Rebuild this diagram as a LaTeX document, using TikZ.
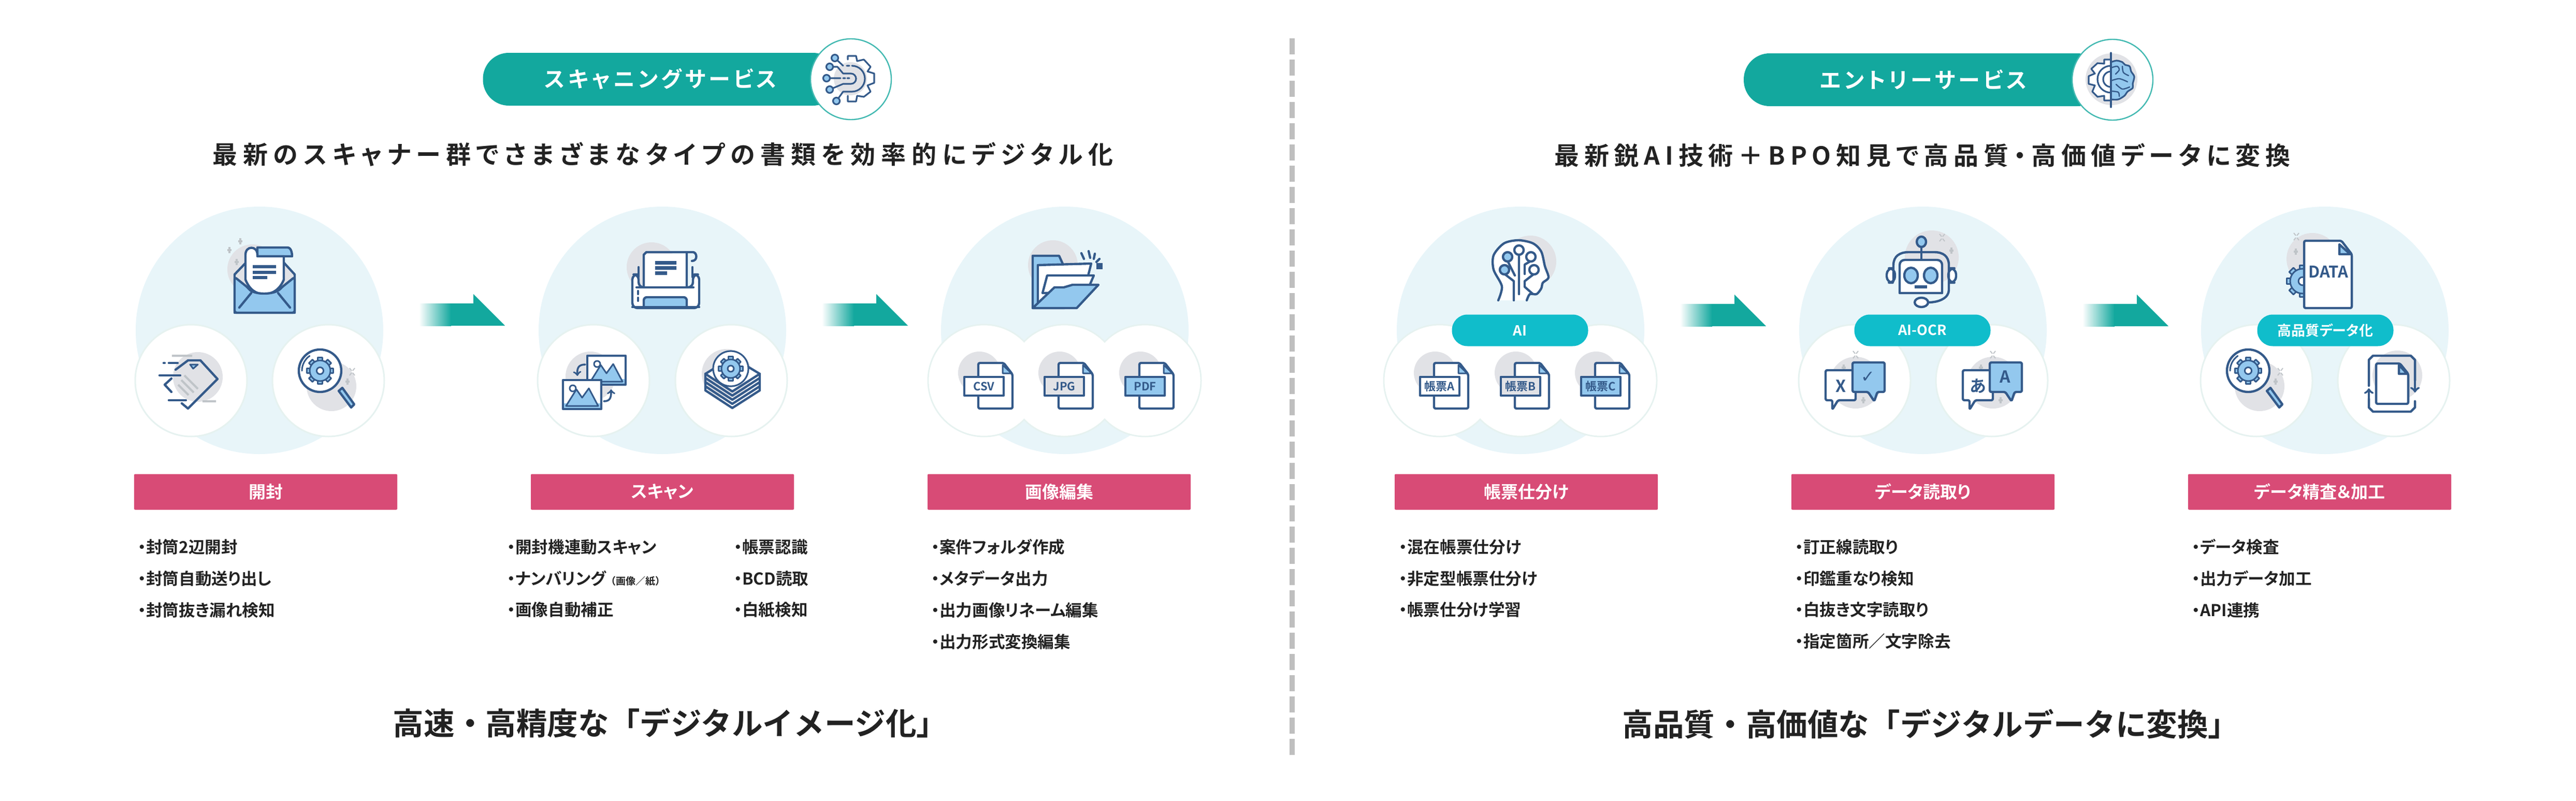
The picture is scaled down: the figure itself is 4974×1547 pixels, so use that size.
\documentclass[tikz,border=0pt]{standalone}
\usepackage{fontspec}
\usetikzlibrary{positioning}
\setmainfont[RawFeature=+palt]{Noto Sans CJK JP Bold}
\newfontfamily\plainfont{Noto Sans CJK JP Bold}
\newfontfamily\headfont[RawFeature=+palt,LetterSpace=22.5]{Noto Sans CJK JP Bold}
\newfontfamily\wideheadfont[RawFeature=+palt,LetterSpace=20.5]{Noto Sans CJK JP Bold}
\newfontfamily\pillfont[RawFeature=+palt,LetterSpace=15]{Noto Sans CJK JP Bold}
\newfontfamily\symfont{DejaVu Sans}

\definecolor{tealpill}{HTML}{13A89E}
\definecolor{cyanpill}{HTML}{10BDCB}
\definecolor{pinkbar}{HTML}{D84B76}
\definecolor{paledisc}{HTML}{E8F5F9}
\definecolor{discedge}{HTML}{E6F2F0}
\definecolor{iconline}{HTML}{345A8A}
\definecolor{iconblue}{HTML}{93C8EE}
\definecolor{iconblob}{HTML}{E1E2E6}
\definecolor{sparkgrey}{HTML}{BFC4C8}
\definecolor{inktext}{HTML}{222222}

\tikzset{
    iconstroke/.style={draw=iconline, line width=2.2pt, line join=round, line cap=round},
    thinstroke/.style={draw=iconline, line width=1.5pt, line join=round, line cap=round},
    bigdisc/.style={circle, fill=paledisc, inner sep=0pt, minimum size=239pt},
    smalldisc/.style={circle, fill=white, draw=discedge, line width=1.5pt, inner sep=0pt, minimum size=108pt},
    mergedisc/.style={circle, fill=white, inner sep=0pt, minimum size=106.5pt},
    servicepill/.style={fill=tealpill, rounded corners=25pt, minimum height=51pt, inner sep=0pt,
        text=white, font=\pillfont\fontsize{21}{21}\selectfont},
    servicering/.style={circle, fill=white, draw=tealpill!80, line width=1.2pt, inner sep=0pt, minimum size=78pt},
    stepbar/.style={fill=pinkbar, rounded corners=1pt, minimum width=254pt, minimum height=34.5pt, inner sep=0pt,
        text=white, font=\fontsize{16.5}{16.5}\selectfont},
    techpill/.style={fill=cyanpill, rounded corners=15pt, minimum width=131.5pt, minimum height=30.5pt, inner sep=0pt,
        text=white, font=\fontsize{13.5}{13.5}\selectfont},
    headline/.style={text=inktext, inner sep=0pt, font=\headfont\fontsize{24}{24}\selectfont},
    closing/.style={text=inktext, inner sep=0pt, font=\plainfont\fontsize{29.8}{29.8}\selectfont},
    listtext/.style={text=inktext, anchor=north west, inner sep=0pt, align=left, font=\fontsize{15.8}{30.4}\selectfont},
    pics/plusmark/.style={code={
        \draw[sparkgrey, line width=1.8pt] (-4,0) -- (4,0) (0,-6) -- (0,6);
    }},
    pics/crossmark/.style={code={
        \draw[sparkgrey, line width=1pt] (-5,-7) -- (-1,-2) (5,-7) -- (1,-2) (-5,7) -- (-1,2) (5,7) -- (1,2);
    }},
    pics/flowarrow/.style={code={
        \shade[left color=white, right color=tealpill] (0,18) rectangle (62,61);
        \fill[tealpill] (61,18) -- (105,18) -- (105,0) -- (166,61) -- (61,61) -- cycle;
    }},
    pics/gearicon/.style={code={
        \foreach \a in {0,45,...,315} {
            \draw[thinstroke, fill=iconblue, rotate=\a] (-0.24*#1,-1.28*#1) rectangle (0.24*#1,-0.8*#1);
        }
        \draw[thinstroke, fill=iconblue] (0,0) circle (#1);
        \draw[thinstroke, fill=white] (0,0) circle (0.33*#1);
    }},
    pics/lensicon/.style={code={
        \fill[iconblob] (6,11) circle (48);
        \draw[iconstroke, fill=iconblue] (20,20) -- (27,14) -- (50,46) -- (44,52) -- cycle;
        \draw[iconstroke, fill=white] (-16,-19) circle (41);
        \pic at (-16,-19) {gearicon=20};
        \draw[thinstroke] (-51,-19) arc[start angle=180, end angle=235, radius=35];
        \pic at (46,-17) {crossmark};
        \pic at (37,2) {plusmark};
    }},
    pics/docicon/.style 2 args={code={
        \fill[iconblob] (-9,-15) circle (41);
        \draw[iconstroke, fill=white, rounded corners=1.5pt] (-11,-34) -- (38,-34) -- (55,-12) -- (55,54) -- (-11,54) -- cycle;
        \draw[thinstroke, fill=iconblue] (36,-30) -- (36,-14) -- (53,-14) -- cycle;
        \draw[iconstroke, fill=#2] (-38,-7) rectangle (38,29);
        \node[text=iconline, inner sep=0pt, font=\fontsize{11}{11}\selectfont] (-tag) at (0,11) {#1};
    }},
    pics/speechicon/.style 2 args={code={
        \fill[iconblob] (2,4) circle (50);
        \pic at (2,-50) {crossmark};
        \pic at (-21,-25) {plusmark};
        \pic at (17,38) {plusmark};
        \draw[iconstroke, fill=white, rounded corners=1.5pt] (-56,-20) -- (2,-20) -- (2,38) -- (-32,38) -- (-43,56) -- (-43,38) -- (-56,38) -- cycle;
        \draw[iconstroke, fill=iconblue, rounded corners=1.5pt] (-4,-35) -- (58,-35) -- (58,22) -- (44,22) -- (38,40) -- (26,22) -- (-4,22) -- cycle;
        \node[text=iconline, inner sep=0pt, font=\fontsize{16}{16}\selectfont] (-left) at (-27,11) {#1};
        \node[text=iconline, inner sep=0pt, font=\fontsize{16}{16}\selectfont] (-right) at (26,-7) {#2};
    }},
    pics/photoicon/.style={code={
        \draw[iconstroke, fill=white] (0,0) rectangle (74,56);
        \fill[iconblue] (2,45) rectangle (72,54);
        \draw[thinstroke, fill=iconblue] (6,50) -- (26,18) -- (37,34) -- (50,16) -- (68,50) -- cycle;
        \draw[thinstroke, fill=white] (19,16) circle (6);
    }}
}

\begin{document}
\begin{tikzpicture}[x=0.5pt, y=-0.5pt]
    \useasboundingbox (0, 0) rectangle (4974, 1547);

    % divider
    \draw[color=black!25, line width=5pt, dash pattern=on 15.5pt off 5pt] (2495, 74) -- (2495, 1464);

    % discs
    \node[bigdisc] (discA) at (501, 638) {};
    \node[bigdisc] (discB) at (1279, 638) {};
    \node[bigdisc] (discC) at (2056, 638) {};
    \node[bigdisc] (discD) at (2936, 638) {};
    \node[bigdisc] (discE) at (3713, 638) {};
    \node[bigdisc] (discF) at (4489, 638) {};

    \node[smalldisc] (subA1) at (369, 735) {};
    \node[smalldisc] (subA2) at (634, 735) {};
    \node[smalldisc] (subB1) at (1146, 735) {};
    \node[smalldisc] (subB2) at (1412, 735) {};
    \node[smalldisc] (subC1) at (1900, 735) {};
    \node[smalldisc] (subC2) at (2055, 735) {};
    \node[smalldisc] (subC3) at (2211, 735) {};
    \node[mergedisc] (mergeC1) at (1900, 735) {};
    \node[mergedisc] (mergeC2) at (2055, 735) {};
    \node[mergedisc] (mergeC3) at (2211, 735) {};
    \node[smalldisc] (subD1) at (2780, 735) {};
    \node[smalldisc] (subD2) at (2936, 735) {};
    \node[smalldisc] (subD3) at (3091, 735) {};
    \node[mergedisc] (mergeD1) at (2780, 735) {};
    \node[mergedisc] (mergeD2) at (2936, 735) {};
    \node[mergedisc] (mergeD3) at (3091, 735) {};
    \node[smalldisc] (subE1) at (3581, 735) {};
    \node[smalldisc] (subE2) at (3846, 735) {};
    \node[smalldisc] (subF1) at (4357, 735) {};
    \node[smalldisc] (subF2) at (4622, 735) {};

    % flow arrows
    \pic at (809, 568) {flowarrow};
    \pic at (1587, 568) {flowarrow};
    \pic at (3244, 569) {flowarrow};
    \pic at (4021, 569) {flowarrow};

    % service headers
    \node[servicepill, minimum width=343.5pt] (pillScan) at (1276, 153) {スキャニングサービス};
    \node[servicering] (ringScan) at (1643, 153) {};
    \node[servicepill, minimum width=347pt] (pillEntry) at (3714, 154) {エントリーサービス};
    \node[servicering] (ringEntry) at (4079, 154) {};

    % header icon, scan
    \fill[iconblob] (1642, 152) circle (32);
    \draw[iconstroke, line width=1.6pt] (1637, 115) -- (1637, 108) -- (1653, 108) -- (1655, 118) -- (1668, 115) -- (1681, 129) -- (1675, 138) -- (1688, 142) -- (1688, 160) -- (1675, 165) -- (1681, 177) -- (1668, 187) -- (1655, 185) -- (1653, 196) -- (1637, 196) -- (1637, 185);
    \draw[iconstroke, line width=1.6pt]
        (1612, 112) -- (1628, 127)
        (1635, 127) -- (1640, 127)
        (1645, 127) arc[start angle=-90, end angle=90, radius=25] -- (1628, 177) -- (1615, 195)
        (1602, 129) -- (1617, 129) -- (1628, 142) -- (1643, 142) arc[start angle=-90, end angle=90, radius=10] -- (1628, 162) -- (1602, 173)
        (1596, 151) -- (1623, 151) (1628, 151) -- (1632, 151) (1636, 151) -- (1640, 151);
    \draw[iconstroke, line width=1.6pt, fill=iconblue] (1612, 112) circle (6.5) (1602, 129) circle (6.5) (1596, 151) circle (6.5) (1602, 173) circle (6.5) (1615, 195) circle (6.5);

    % header icon, entry
    \fill[iconblob] (4077, 153) circle (50);
    \draw[iconstroke, line width=1.6pt, fill=white] (4076, 115) -- (4063, 115) -- (4063, 123) -- (4050, 122) -- (4038, 133) -- (4045, 142) -- (4033, 147) -- (4033, 162) -- (4045, 165) -- (4040, 177) -- (4050, 187) -- (4063, 185) -- (4063, 194) -- (4076, 194);
    \draw[iconstroke, line width=1.6pt] (4076, 127) arc[start angle=-90, end angle=-270, radius=26] (4076, 138) arc[start angle=-90, end angle=-270, radius=15];
    \draw[iconstroke, line width=1.6pt, fill=iconblue] plot[smooth] coordinates {(4076, 120) (4087, 117) (4098, 120) (4103, 125) (4112, 128) (4115, 138) (4121, 148) (4118, 162) (4118, 170) (4108, 177) (4102, 185) (4090, 192) (4076, 192)};
    \draw[iconstroke, line width=1.2pt] plot[smooth] coordinates {(4076, 131) (4088, 128) (4092, 135) (4085, 143)} plot[smooth] coordinates {(4098, 128) (4100, 140) (4110, 146)} plot[smooth] coordinates {(4076, 156) (4092, 152) (4108, 158)} plot[smooth] coordinates {(4086, 163) (4098, 172) (4112, 168)} plot[smooth] coordinates {(4076, 176) (4090, 178) (4092, 186)};
    \draw[iconstroke, line width=1.6pt] (4076, 102) -- (4076, 207);

    % headlines
    \node[headline] (leadScan) at (1280, 298) {最新のスキャナー群でさまざまなタイプの書類を効率的にデジタル化};
    \node[headline, font=\wideheadfont\fontsize{24}{24}\selectfont] (leadEntry) at (3712, 300) {最新鋭AI技術＋BPO知見で高品質・高価値データに変換};

    % envelope
    \fill[iconblob] (487, 520) circle (48);
    \pic at (464, 466) {plusmark};
    \pic at (443, 483) {plusmark};
    \pic at (457, 506) {plusmark};
    \draw[iconstroke, fill=iconblob] (453, 604) -- (453, 530) -- (477, 505) -- (546, 505) -- (569, 530) -- (569, 604) -- cycle;
    \draw[iconstroke, fill=iconblue] (497, 478) -- (555, 478) .. controls (562, 478) and (564, 488) .. (564, 495) -- (497, 495) -- cycle;
    \draw[iconstroke, fill=white] (474, 540) -- (474, 492) .. controls (474, 474) and (497, 474) .. (497, 492) -- (497, 495) -- (548, 495) -- (548, 540) .. controls (540, 560) and (525, 568) .. (510, 568) .. controls (495, 568) and (482, 560) .. (474, 540);
    \fill[iconline] (488, 512) rectangle (533, 518) (488, 523) rectangle (533, 529) (488, 533) rectangle (516, 539);
    \draw[iconstroke, fill=iconblue, rounded corners=2pt] (453, 535) -- (478, 555) .. controls (490, 570) and (530, 570) .. (544, 555) -- (569, 535) -- (569, 604) -- (453, 604) -- cycle;
    \draw[iconstroke] (462, 594) -- (485, 566) (560, 594) -- (537, 566);

    % flying sheet
    \fill[iconblob] (382, 728) circle (48);
    \draw[iconstroke] (339, 714) -- (363, 696) -- (387, 696) -- (420, 732) -- (363, 789) -- (351, 779) (331, 731) -- (318, 743) -- (331, 757);
    \draw[thinstroke, fill=iconblue] (367, 704) -- (382, 704) -- (373, 712) -- cycle;
    \draw[iconstroke] (308, 725) -- (348, 725) (326, 773) -- (359, 773) (326, 701) -- (343, 701) (316, 701) -- (318, 701);
    \draw[sparkgrey, line width=2pt] (332, 687) -- (371, 687) (391, 775) -- (417, 775) (356, 725) -- (382, 751) (350, 734) -- (374, 758) (344, 743) -- (364, 763);

    \pic at (634, 735) {lensicon};

    % scanner
    \fill[iconblob] (1258, 516) circle (48);
    \draw[iconstroke, fill=white, rounded corners=5pt] (1221, 595) -- (1221, 530) -- (1233, 530) -- (1233, 555) -- (1338, 555) -- (1338, 530) -- (1350, 530) -- (1350, 595) -- cycle;
    \draw[iconstroke] (1233, 516) -- (1233, 535) (1337, 516) -- (1337, 535);
    \fill[white] (1245, 490) rectangle (1326, 553);
    \draw[iconstroke] (1243, 553) -- (1243, 492) -- (1248, 487) -- (1338, 487) .. controls (1346, 487) and (1348, 504) .. (1336, 504) (1326, 490) -- (1326, 553);
    \fill[iconline] (1265, 504) rectangle (1306, 511) (1265, 514) rectangle (1306, 521) (1265, 524) rectangle (1288, 531);
    \draw[iconstroke] (1229, 555) -- (1339, 555);
    \draw[iconstroke, fill=iconblue, rounded corners=3pt] (1243, 593) -- (1243, 574) -- (1326, 574) -- (1326, 593);
    \draw[iconstroke, dash pattern=on 3pt off 3.5pt] (1232, 562) -- (1232, 586);
    \draw[iconstroke] (1221, 593) -- (1350, 593);

    % image pair
    \fill[iconblob] (1140, 727) circle (48);
    \pic at (1134, 687) {photoicon};
    \pic at (1087, 734) {photoicon};
    \draw[iconstroke, line width=1.8pt, ->] (1130, 704) .. controls (1116, 704) and (1114, 712) .. (1115, 726);
    \draw[iconstroke, line width=1.8pt, ->] (1166, 775) .. controls (1180, 775) and (1180, 765) .. (1180, 752);

    % stacked sheets
    \fill[iconblob] (1403, 722) circle (48);
    \draw[iconstroke, fill=white] (1362, 722) -- (1414, 690) -- (1467, 722) -- (1414, 756) -- cycle;
    \draw[iconstroke] (1362, 722) -- (1362, 754) (1467, 722) -- (1467, 754) (1362, 730) -- (1414, 764) -- (1467, 730) (1362, 738) -- (1414, 772) -- (1467, 738) (1362, 746) -- (1414, 780) -- (1467, 746) (1362, 754) -- (1414, 788) -- (1467, 754);
    \draw[iconstroke, fill=white, line width=1.6pt] (1411, 712) circle (34);
    \pic at (1411, 712) {gearicon=18};

    % folder
    \fill[iconblob] (2033, 512) circle (48);
    \draw[iconstroke, fill=iconblue] (1994, 595) -- (1994, 494) -- (2045, 494) -- (2055, 516) -- (2055, 595) -- cycle;
    \draw[iconstroke, fill=white] (2004, 585) -- (2004, 512) -- (2107, 509) -- (2094, 560) -- cycle;
    \draw[iconstroke, fill=white] (2013, 566) -- (2022, 532) -- (2112, 532) -- (2098, 565) -- cycle;
    \draw[iconstroke, fill=iconblue] (1994, 595) -- (2036, 555) -- (2054, 555) -- (2071, 550) -- (2121, 550) -- (2079, 595) -- cycle;
    \draw[iconstroke] (2088, 489) -- (2093, 500) (2102, 485) -- (2105, 498) (2114, 490) -- (2112, 500) (2123, 500) -- (2117, 506);
    \fill[iconline] (2117, 508) rectangle (2129, 520);

    \pic (docCsv) at (1900, 735) {docicon={CSV}{white}};
    \pic (docJpg) at (2055, 735) {docicon={JPG}{iconblob}};
    \pic (docPdf) at (2211, 735) {docicon={PDF}{iconblue}};

    % head
    \fill[iconblob] (2955, 505) circle (50);
    \draw[iconstroke, fill=white] plot[smooth] coordinates {(2893, 580) (2900, 553) (2884, 521) (2884, 493) (2904, 470) (2932, 464) (2960, 470) (2976, 486) (2983, 514) (2990, 536) (2979, 546) (2976, 557) (2967, 568) (2954, 568) (2948, 580)};
    \draw[iconstroke] (2933, 489) -- (2933, 568) (2911, 504) -- (2925, 532) (2905, 529) -- (2923, 543) -- (2923, 580) (2956, 504) -- (2944, 511) -- (2944, 529) (2962, 529) -- (2944, 543) -- (2944, 554) -- (2960, 568);
    \draw[iconstroke, fill=iconblue] (2911, 496) circle (9) (2905, 521) circle (9);
    \draw[iconstroke, fill=white] (2933, 483) circle (9) (2956, 496) circle (9) (2962, 521) circle (9);

    \pic (docA) at (2780, 735) {docicon={帳票A}{white}};
    \pic (docB) at (2936, 735) {docicon={帳票B}{iconblob}};
    \pic (docC) at (3091, 735) {docicon={帳票C}{iconblue}};

    % robot
    \fill[iconblob] (3730, 497) circle (52);
    \pic at (3750, 459) {crossmark};
    \pic at (3768, 484) {plusmark};
    \draw[iconstroke, fill=white, rounded corners=6pt] (3643, 518) -- (3659, 518) -- (3659, 546) -- (3643, 546) -- cycle;
    \draw[iconstroke, fill=white, rounded corners=6pt] (3762, 518) -- (3777, 518) -- (3777, 546) -- (3762, 546) -- cycle;
    \draw[iconstroke] (3656, 543) -- (3656, 512) .. controls (3656, 495) and (3668, 487) .. (3685, 487) -- (3735, 487) .. controls (3752, 487) and (3763, 495) .. (3763, 512) -- (3763, 560) .. controls (3763, 575) and (3745, 584) .. (3723, 584);
    \draw[iconstroke, fill=white] (3668, 566) -- (3668, 512) .. controls (3668, 506) and (3672, 502) .. (3678, 502) -- (3740, 502) .. controls (3746, 502) and (3750, 506) .. (3750, 512) -- (3750, 566) -- cycle;
    \draw[iconstroke, fill=iconblue] (3690, 532) ellipse (13 and 15) (3728, 532) ellipse (13 and 15);
    \draw[iconstroke, line width=3pt, line cap=butt] (3697, 554) -- (3721, 554);
    \draw[iconstroke] (3710, 476) -- (3710, 500);
    \draw[iconstroke, fill=iconblue] (3710, 467) ellipse (9 and 10);
    \draw[iconstroke, fill=white] (3710, 584) ellipse (13 and 9);

    \pic (talkA) at (3581, 735) {speechicon={X}{\symfont ✓}};
    \pic (talkB) at (3846, 735) {speechicon={あ}{A}};

    % data sheet
    \fill[iconblob] (4465, 500) circle (50);
    \pic at (4434, 457) {crossmark};
    \pic at (4433, 486) {plusmark};
    \pic at (4446, 543) {gearicon=24};
    \draw[iconstroke, fill=white, rounded corners=1.5pt] (4449, 595) -- (4449, 465) -- (4521, 465) -- (4541, 491) -- (4541, 595) -- cycle;
    \draw[iconstroke, fill=iconblue] (4517, 472) -- (4517, 491) -- (4538, 491) -- cycle;
    \node[text=iconline, inner sep=0pt, font=\fontsize{15.5}{15.5}\selectfont] (dataTag) at (4496, 525) {DATA};

    \pic at (4357, 735) {lensicon};

    % rotating sheet
    \fill[iconblob] (4629, 725) circle (48);
    \draw[iconstroke] (4574, 745) -- (4574, 695) -- (4582, 687) -- (4655, 687) -- (4663, 695) -- (4663, 735) (4663, 775) -- (4663, 787) -- (4655, 795) -- (4582, 795) -- (4574, 787) -- (4574, 770);
    \draw[iconstroke, fill=white, rounded corners=1.5pt] (4588, 780) -- (4588, 702) -- (4634, 702) -- (4650, 722) -- (4650, 780) -- cycle;
    \draw[iconstroke, fill=iconblue] (4632, 705) -- (4632, 722) -- (4648, 722) -- cycle;
    \draw[iconstroke, ->] (4663, 735) -- (4663, 758);
    \draw[iconstroke, ->] (4574, 770) -- (4574, 750);

    % technique pills
    \node[techpill] (techAi) at (2935, 638) {AI};
    \node[techpill] (techOcr) at (3712, 638) {AI-OCR};
    \node[techpill] (techData) at (4490, 638) {高品質データ化};

    % step bars
    \node[stepbar] (barOpen) at (513, 950) {開封};
    \node[stepbar] (barScan) at (1279, 950) {スキャン};
    \node[stepbar] (barEdit) at (2045, 950) {画像編集};
    \node[stepbar] (barSort) at (2947, 950) {帳票仕分け};
    \node[stepbar] (barRead) at (3713, 950) {データ読取り};
    \node[stepbar] (barFix) at (4479, 950) {データ精査＆加工};

    % lists
    \node[listtext] (listOpen) at (266, 1041) {・封筒2辺開封\\・封筒自動送り出し\\・封筒抜き漏れ検知};
    \node[listtext] (listScan) at (979, 1041) {・開封機連動スキャン\\・ナンバリング{\plainfont\fontsize{9.5}{30.4}\selectfont（画像／紙）}\\・画像自動補正};
    \node[listtext] (listCheck) at (1417, 1041) {・帳票認識\\・BCD読取\\・白紙検知};
    \node[listtext] (listEdit) at (1798, 1041) {・案件フォルダ作成\\・メタデータ出力\\・出力画像リネーム編集\\・出力形式変換編集};
    \node[listtext] (listSort) at (2701, 1041) {・混在帳票仕分け\\・非定型帳票仕分け\\・帳票仕分け学習};
    \node[listtext] (listRead) at (3466, 1041) {・訂正線読取り\\・印鑑重なり検知\\・白抜き文字読取り\\・指定箇所／文字除去};
    \node[listtext] (listFix) at (4232, 1041) {・データ検査\\・出力データ加工\\・API連携};

    % closing lines
    \node[closing] (endScan) at (1294, 1396) {高速・高精度な「デジタルイメージ化」};
    \node[closing] (endEntry) at (3728, 1398) {高品質・高価値な「デジタルデータに変換」};
\end{tikzpicture}
\end{document}
